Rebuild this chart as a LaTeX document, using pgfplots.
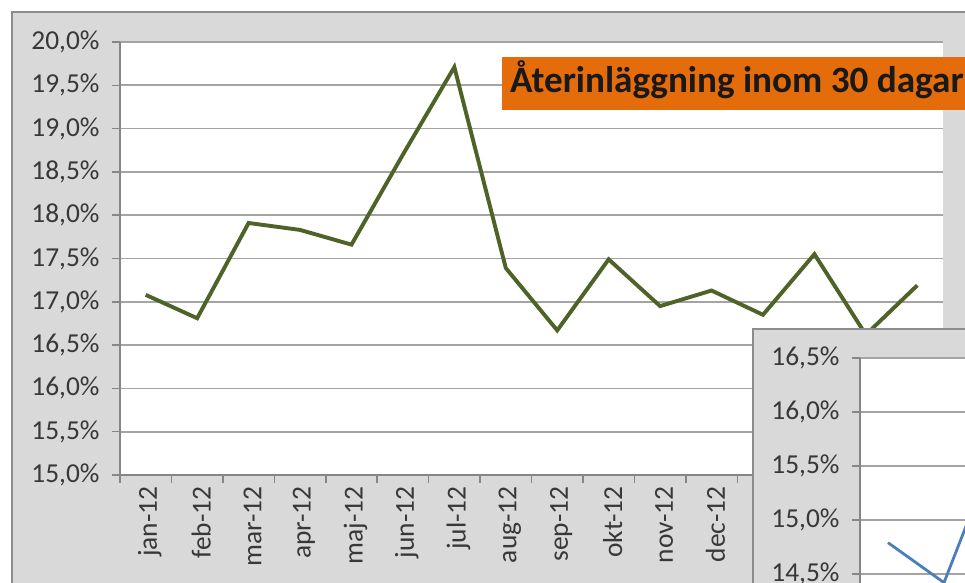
\documentclass[border=0pt]{standalone}
\usepackage{pgfplots}
\pgfplotsset{compat=1.18}
\usepackage{fontspec}
\setmainfont{Carlito}
\definecolor{panelgray}{HTML}{D9D9D9}
\definecolor{bordergray}{HTML}{8C8C8C}
\definecolor{gridgray}{HTML}{A4A4A4}
\definecolor{axisgray}{HTML}{868686}
\definecolor{olive}{HTML}{4F6228}
\definecolor{titleorange}{HTML}{E46C0A}
\definecolor{lineblue}{HTML}{4A7EBB}
\definecolor{labelgray}{HTML}{383838}
\begin{document}
\begin{tikzpicture}[x=1bp,y=1bp]
\path[use as bounding box] (0,0) rectangle (965,583);
\clip (0,0) rectangle (965,583);
\fill[white] (0,0) rectangle (965,583);
% main panel
\fill[panelgray] (12,-5) rectangle (975,571);
\draw[bordergray, line width=2.5bp] (12,-5) -- (12,571) -- (975,571);
\begin{axis}[
  at={(120bp,108bp)}, anchor=south west,
  width=823bp, height=433bp, scale only axis,
  xmin=-0.5, xmax=15.5, ymin=15, ymax=20,
  axis background/.style={fill=white},
  axis x line*=bottom, axis y line*=left,
  axis line style={draw=axisgray, line width=1.5bp, -},
  ytick={15,15.5,16,16.5,17,17.5,18,18.5,19,19.5,20},
  yticklabels={{15,0\%},{15,5\%},{16,0\%},{16,5\%},{17,0\%},{17,5\%},{18,0\%},{18,5\%},{19,0\%},{19,5\%},{20,0\%}},
  ymajorgrids, grid style={draw=gridgray, line width=1.7bp},
  xtick={-0.5,0.5,1.5,2.5,3.5,4.5,5.5,6.5,7.5,8.5,9.5,10.5,11.5,12.5,13.5,14.5,15.5},
  x tick label as interval,
  xticklabels={jan-12,feb-12,mar-12,apr-12,maj-12,jun-12,jul-12,aug-12,sep-12,okt-12,nov-12,dec-12,jan-13,feb-13,mar-13,apr-13},
  tick align=outside, major tick length=8bp,
  tick style={draw=axisgray, line width=1.5bp},
  ticklabel style={font=\fontsize{27.5}{32}\selectfont, text=labelgray},
  yticklabel style={xshift=-9bp},
  xticklabel style={rotate=90, anchor=east, yshift=-4bp},
]
\addplot[olive, line width=3.9bp, line join=miter] coordinates {
(0,17.08) (1,16.81) (2,17.91) (3,17.83) (4,17.66) (5,18.70) (6,19.71) (7,17.39)
(8,16.67) (9,17.49) (10,16.95) (11,17.13) (12,16.85) (13,17.55) (14,16.62) (15,17.19)
};
\end{axis}
% title box
\fill[titleorange] (502,473) rectangle (980,526);
\node[anchor=base west, inner sep=0pt, text=black!90] at (510,490) {\fontsize{37.3}{40}\selectfont\bfseries Återinläggning inom 30 dagar};
% inset panel
\fill[panelgray] (753,-5) rectangle (975,254);
\draw[bordergray, line width=2.5bp] (753,-5) -- (753,254) -- (975,254);
\begin{axis}[
  at={(860bp,-45bp)}, anchor=south west,
  width=280bp, height=270bp, scale only axis,
  xmin=-0.5, xmax=4.5, ymin=14, ymax=16.5,
  axis background/.style={fill=white},
  axis x line*=bottom, axis y line*=left,
  axis line style={draw=axisgray, line width=1.5bp, -},
  ytick={14,14.5,15,15.5,16,16.5},
  yticklabels={{14,0\%},{14,5\%},{15,0\%},{15,5\%},{16,0\%},{16,5\%}},
  ymajorgrids, grid style={draw=gridgray, line width=1.7bp},
  xtick=\empty,
  tick align=outside, major tick length=8bp,
  tick style={draw=axisgray, line width=1.5bp},
  ticklabel style={font=\fontsize{27.5}{32}\selectfont, text=labelgray},
  yticklabel style={xshift=-9bp},
]
\addplot[lineblue, line width=2.8bp] coordinates {(0,14.79) (1,14.42) (2,15.75)};
\end{axis}
\end{tikzpicture}
\end{document}
